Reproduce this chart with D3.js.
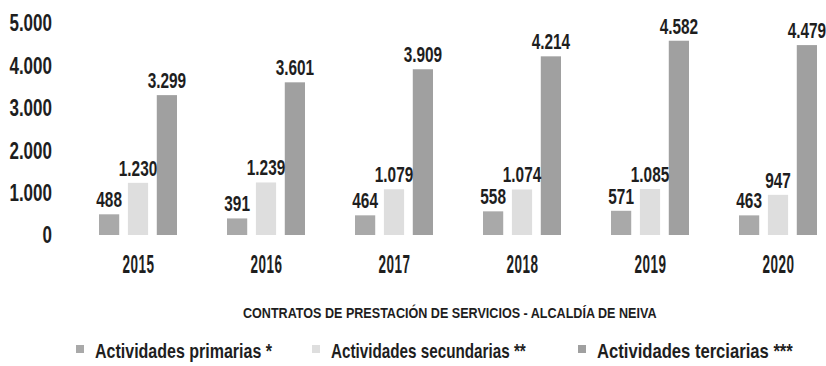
<!DOCTYPE html>
<html>
<head>
<meta charset="utf-8">
<script src="https://cdn.jsdelivr.net/npm/d3@7"></script>
<style>
  html, body { margin: 0; padding: 0; background: #fff; }
  svg { display: block; }
  text { font-family: "Liberation Sans", Arial, sans-serif; fill: #1e1e1e; }
</style>
</head>
<body>
<script>
// Contratos de prestación de servicios por año y tipo de actividad
const years = ["2015", "2016", "2017", "2018", "2019", "2020"];
const seriesNames = ["Actividades primarias *", "Actividades secundarias **", "Actividades terciarias ***"];
const primarias   = [488, 391, 464, 558, 571, 463];
const secundarias = [1230, 1239, 1079, 1074, 1085, 947];
const terciarias  = [3299, 3601, 3909, 4214, 4582, 4479];
const yTicks = [0, 1000, 2000, 3000, 4000, 5000];
const colors = ["#a9a9a9", "#dedede", "#a0a0a0"];
const title = "CONTRATOS DE PRESTACIÓN  DE SERVICIOS  - ALCALDÍA DE NEIVA";

const series = [primarias, secundarias, terciarias];
const W = 826, H = 366;

const es = d3.formatLocale({ decimal: ",", thousands: ".", grouping: [3], currency: ["", ""] });
const fmt = es.format(",d");

const svg = d3.select("body").append("svg").attr("width", W).attr("height", H);

const x = d3.scalePoint().domain(years).range([138, 778]);
const xInner = d3.scaleBand().domain(d3.range(3)).range([-39, 39]).paddingInner(0.3);
const y = d3.scaleLinear().domain([0, 5000]).range([235, 23]);

// squeeze a text horizontally so it spans the given width
function fitWidth(sel, x0, y0, width) {
  sel.each(function () {
    const w = this.getComputedTextLength();
    d3.select(this).attr("transform", `translate(${x0},${y0}) scale(${width / w},1)`);
  });
}

// y axis: labels only, narrow bold digits
const yAxis = svg.append("g")
  .attr("transform", "translate(52,0)")
  .call(d3.axisLeft(y).tickValues(yTicks).tickFormat(fmt).tickSize(0).tickPadding(0));
yAxis.select(".domain").remove();
yAxis.selectAll("text")
  .attr("x", null).attr("dy", null)
  .style("font-family", null)
  .attr("font-size", 23).attr("font-weight", "bold")
  .attr("dominant-baseline", "central")
  .attr("transform", "scale(0.74,1)");

// bars
const groups = svg.append("g").selectAll("g")
  .data(years).join("g")
  .attr("transform", d => `translate(${x(d)},0)`);

groups.selectAll("rect")
  .data((yr, i) => series.map((s, k) => ({ k, v: s[i] })))
  .join("rect")
  .attr("x", d => xInner(d.k))
  .attr("width", xInner.bandwidth())
  .attr("y", d => y(d.v))
  .attr("height", d => y(0) - y(d.v))
  .attr("fill", d => colors[d.k]);

// value labels
groups.selectAll("text.val")
  .data((yr, i) => series.map((s, k) => ({ k, v: s[i] })))
  .join("text")
  .attr("class", "val")
  .attr("transform", d => `translate(${xInner(d.k) + xInner.bandwidth() / 2},${y(d.v) - 7}) scale(0.7,1)`)
  .attr("text-anchor", "middle")
  .attr("font-size", 22).attr("font-weight", "bold")
  .text(d => fmt(d.v));

// x axis: year labels only
const xAxis = svg.append("g")
  .attr("transform", "translate(0,255)")
  .call(d3.axisBottom(x).tickSize(0).tickPadding(0));
xAxis.select(".domain").remove();
xAxis.selectAll("text")
  .attr("y", null).attr("dy", null)
  .style("font-family", null)
  .attr("font-size", 25).attr("font-weight", "bold")
  .attr("dominant-baseline", "hanging")
  .attr("letter-spacing", 1)
  .attr("transform", "scale(0.54,1)");

// title
svg.append("text")
  .attr("font-size", 15).attr("font-weight", "bold")
  .text(title)
  .call(fitWidth, 243, 318, 414);

// legend
const legendX = [76, 312, 578];
const legendLen = [177, 195, 196];
const legend = svg.append("g").selectAll("g")
  .data(seriesNames).join("g")
  .attr("transform", (d, i) => `translate(${legendX[i]},0)`);
legend.append("rect")
  .attr("x", 0).attr("y", 345).attr("width", 8).attr("height", 8)
  .attr("fill", (d, i) => colors[i]);
legend.append("text")
  .attr("font-size", 20).attr("font-weight", "bold")
  .text(d => d)
  .each(function (d, i) { d3.select(this).call(fitWidth, 19, 358, legendLen[i]); });
</script>
</body>
</html>
